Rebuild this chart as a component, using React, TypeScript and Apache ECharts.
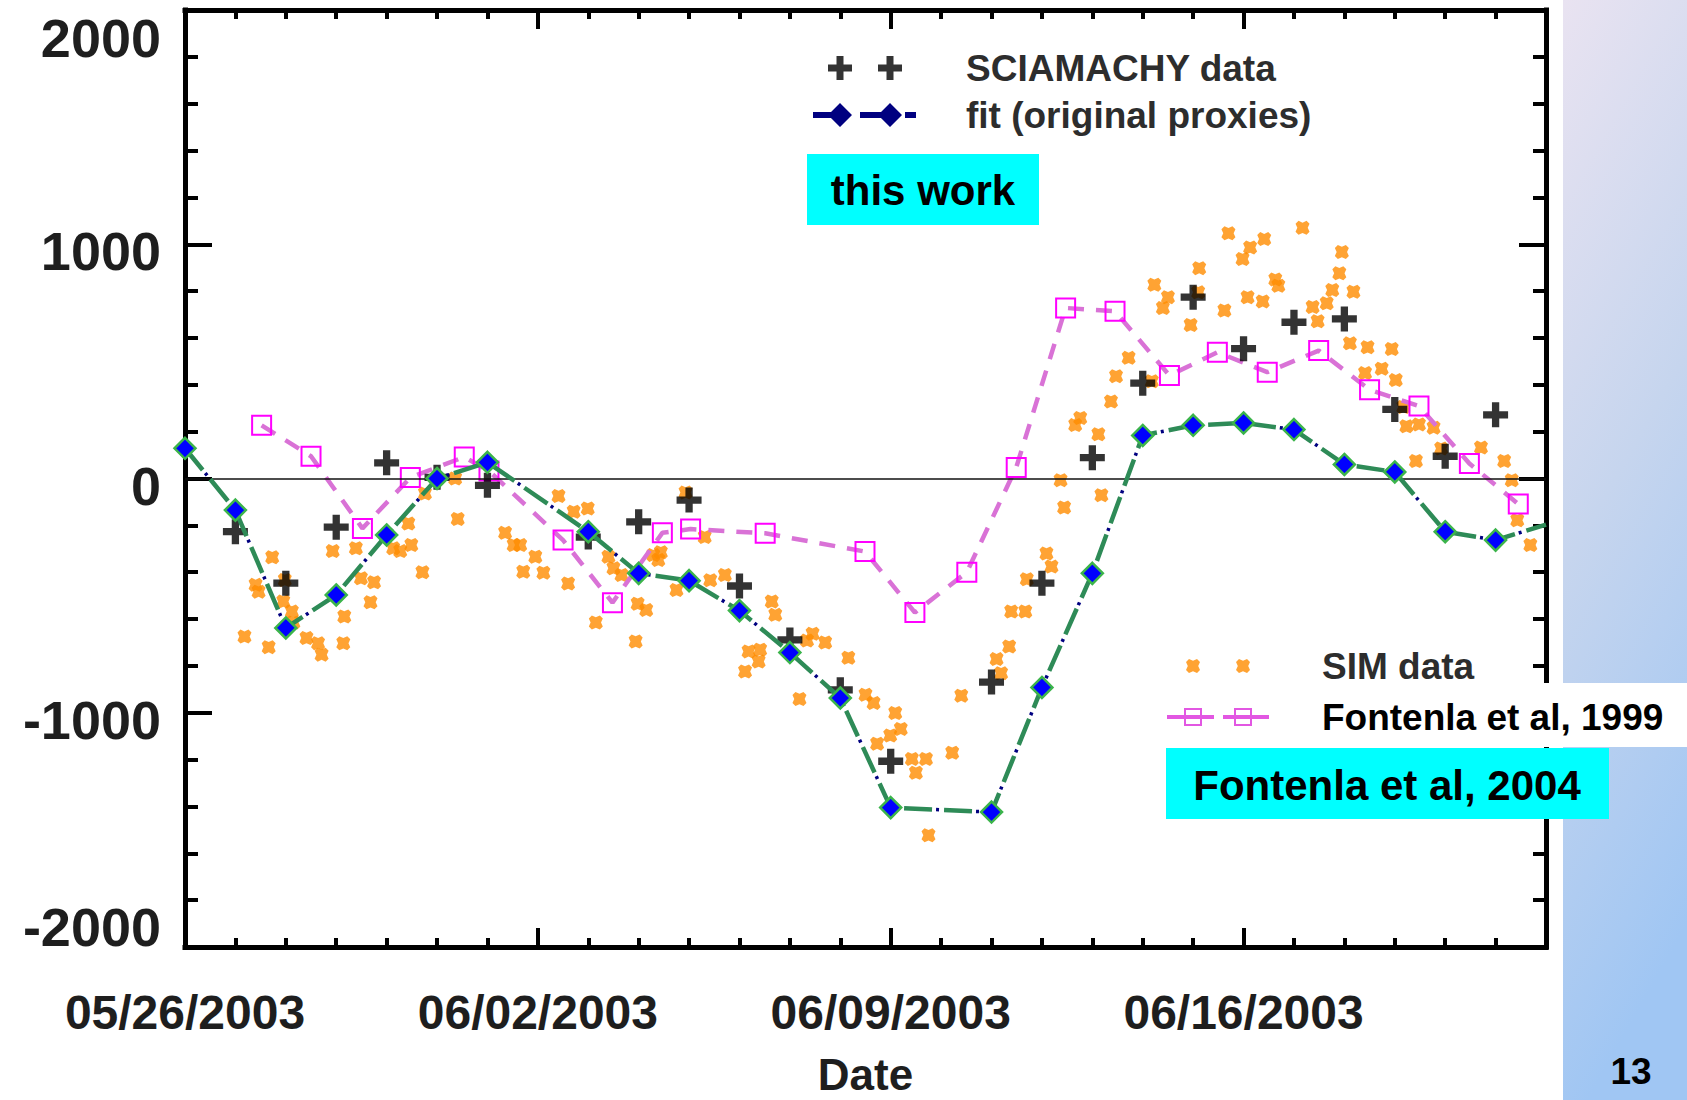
import React, { useEffect, useRef } from 'react';
import * as echarts from 'echarts';

// ---------------- data (x = days since 05/26/2003) ----------------
const xTickDays = [0, 7, 14, 21];
const xTickLabels = ['05/26/2003', '06/02/2003', '06/09/2003', '06/16/2003'];
const yTickValues = [-2000, -1000, 0, 1000, 2000];

const sciaDays = [1, 2, 3, 4, 5, 6, 8, 9, 10, 11, 12, 13, 14, 16, 17, 18, 19, 20, 21, 22, 23, 24, 25, 26];
const sciaValues = [-227, -447, -208, 67, 5, -29, -250, -185, -92, -459, -689, -902, -1207, -869, -447, 89, 407, 774, 554, 667, 681, 295, 95, 272];

const fitDays = [0, 1, 2, 3, 4, 5, 6, 8, 9, 10, 11, 12, 13, 14, 16, 17, 18, 19, 20, 21, 22, 23, 24, 25, 26, 27];
const fitValues = [129, -135, -638, -497, -241, 0, 69, -227, -405, -436, -564, -743, -937, -1405, -1424, -892, -405, 184, 227, 237, 209, 60, 28, -227, -263, -197];

const f99Days = [1.52, 2.5, 3.52, 4.47, 5.54, 6.03, 7.5, 8.48, 9.47, 10.03, 11.51, 13.49, 14.48, 15.51, 16.49, 17.47, 18.45, 19.53, 20.48, 21.47, 22.49, 23.5, 24.48, 25.48, 26.45];
const f99Values = [227, 95, -213, 4, 92, 32, -263, -530, -232, -216, -234, -312, -572, -400, 47, 728, 714, 440, 539, 454, 546, 379, 309, 64, -109];

const simDays = [
  1.18, 1.4, 1.46, 1.66, 1.73, 1.95, 1.98, 2.12, 2.15, 2.41, 2.64, 2.71, 2.93, 3.14, 3.16, 3.39, 3.49, 3.68, 3.75,
  4.13, 4.27, 4.43, 4.49, 4.71, 4.76, 5.36, 5.41, 6.35, 6.52, 6.65, 6.71, 6.95, 7.11, 7.41, 7.6, 7.71, 7.99,
  8.15, 8.4, 8.5, 8.66, 8.94, 8.98, 9.15, 9.29, 9.39, 9.44, 9.75, 9.93, 10.31, 10.42, 10.71, 11.11, 11.18,
  11.38, 11.41, 11.64, 11.71, 12.19, 12.34, 12.45, 12.7, 13.16, 13.5, 13.66, 13.73, 13.99, 14.09, 14.2,
  14.42, 14.5, 14.7, 14.75, 15.22, 15.4, 16.1, 16.19, 16.35, 16.39, 16.67, 16.7, 17.09, 17.19, 17.37, 17.44,
  17.66, 17.76, 18.12, 18.18, 18.37, 18.47, 18.72, 19.18, 19.23, 19.4, 19.5, 19.95, 20.1, 20.12, 20.62, 20.7,
  20.98, 21.08, 21.13, 21.38, 21.41, 21.63, 21.69, 22.17, 22.37, 22.47, 22.65, 22.76, 22.9, 22.95, 23.11,
  23.18, 23.41, 23.46, 23.74, 23.94, 24.02, 24.17, 24.23, 24.42, 24.48, 24.77, 24.92, 25.71, 26.17, 26.32,
  26.43, 26.69,
];
const simValues = [
  -675, -454, -483, -720, -336, -525, -433, -568, -615, -681, -703, -752, -310, -703, -589, -298, -426, -528, -443,
  -298, -310, -192, -284, -400, -64, 0, -173, -232, -284, -284, -398, -334, -402, -75, -448, -142, -128,
  -615, -334, -383, -412, -696, -535, -561, -327, -348, -315, -476, -60, -250, -434, -412, -824, -738,
  -781, -731, -525, -582, -941, -692, -663, -700, -765, -923, -958, -1132, -1097, -1001, -1069,
  -1197, -1256, -1197, -1523, -1171, -927, -771, -831, -717, -568, -568, -430, -320, -376, -7, -124,
  228, 258, 189, -71, 329, 437, 515, 415, 827, 728, 774, 655, 795, 898, 717, 1047,
  937, 774, 986, 756, 1022, 850, 823, 1070, 732, 671, 748, 805, 876, 967, 577,
  797, 450, 560, 469, 553, 420, 305, 223, 75, 231, 217, 128, 132, 75, -7,
  -178, -284,
];

// ---------------- styling helpers ----------------
const FONT = '"Liberation Sans", Arial, Helvetica, sans-serif';
const pairs = (xs: number[], ys: number[]) => xs.map((x, i) => [x, ys[i]]);

const PLUS_SYMBOL = 'path://M8.5,0H15.5V8.5H24V15.5H15.5V24H8.5V15.5H0V8.5H8.5Z';
const X_PTS = [[0, 3], [3, 0], [7, 1.8], [11, 0], [14, 3], [12.2, 7], [14, 11], [11, 14], [7, 12.2], [3, 14], [0, 11], [1.8, 7]];
const X_SYMBOL = 'path://M' + X_PTS.map(([a, b]) => `${a},${b}`).join('L') + 'Z';

const plusIcon = (cx: number) =>
  `M${cx - 3.5},0H${cx + 3.5}V8.5H${cx + 12}V15.5H${cx + 3.5}V24H${cx - 3.5}V15.5H${cx - 12}V8.5H${cx - 3.5}Z`;
const xIcon = (cx: number, cy: number, s: number) => {
  const k = s / 14;
  return 'M' + X_PTS.map(([a, b]) => `${(cx - s / 2 + a * k).toFixed(2)},${(cy - s / 2 + b * k).toFixed(2)}`).join('L') + 'Z';
};
const diamondIcon = (cx: number) => `M${cx - 12},12L${cx},0L${cx + 12},12L${cx},24Z`;
const squareRing = (cx: number) =>
  `M${cx - 9},3H${cx + 9}V21H${cx - 9}Z M${cx - 7},5V19H${cx + 7}V5Z`;

const ICON_SCIA = `path://M0,0Z M148,24Z ${plusIcon(27)} ${plusIcon(77)}`;
const ICON_FIT = `path://M0,0Z M148,24Z M0,9H22V15H0Z ${diamondIcon(27)} M47,9H72V15H47Z ${diamondIcon(77)} M92,9H103V15H92Z`;
const ICON_SIM = `path://M0,0Z M150,24Z ${xIcon(26, 12, 14)} ${xIcon(76, 12, 14)}`;
const ICON_F99 = `path://M0,0Z M150,24Z M0,10H47V14H0Z M56,10H102V14H56Z ${squareRing(26)} ${squareRing(76)}`;

const BLACK = '#000';
const frameLine = { show: true, onZero: false, lineStyle: { color: BLACK, width: 5, cap: 'square' } };
const noLine = { show: false, onZero: false };

const xCommon = { type: 'value', min: 0, max: 27, splitLine: { show: false } };

const yLabelFont = { fontSize: 54, fontWeight: 'bold', fontFamily: FONT, color: '#1e1e1e' };

export default function App() {
  const ref = useRef<HTMLDivElement>(null);

  useEffect(() => {
    if (!ref.current) return;
    const chart = echarts.init(ref.current, null, { renderer: 'svg' });

    const fitData = fitDays.map((d, i) =>
      i === fitDays.length - 1 ? { value: [d, fitValues[i]], symbol: 'none' } : [d, fitValues[i]]
    );

    const option: any = {
      animation: false,
      backgroundColor: '#ffffff',
      textStyle: { fontFamily: FONT },
      grid: { left: 185, top: 10, width: 1361, height: 937, containLabel: false, outerBoundsMode: 'none' },
      xAxis: [
        {
          ...xCommon,
          position: 'bottom',
          interval: 7,
          axisLine: frameLine,
          axisTick: { show: true, inside: true, length: 19, lineStyle: { color: BLACK, width: 4 } },
          axisLabel: {
            show: true,
            margin: 41,
            fontSize: 48,
            fontWeight: 'bold',
            fontFamily: FONT,
            color: '#1e1e1e',
            formatter: (v: number) => {
              const i = xTickDays.indexOf(v);
              return i >= 0 ? xTickLabels[i] : '';
            },
          },
          name: 'Date',
          nameLocation: 'middle',
          nameGap: 107,
          nameMoveOverlap: false,
          nameTextStyle: { fontSize: 44, lineHeight: 40, fontWeight: 'bold', fontFamily: FONT, color: '#1e1e1e' },
        },
        {
          ...xCommon,
          position: 'bottom',
          interval: 1,
          axisLine: noLine,
          axisTick: { show: true, inside: true, length: 9, lineStyle: { color: BLACK, width: 4 } },
          axisLabel: { show: false },
        },
        {
          ...xCommon,
          position: 'top',
          interval: 7,
          axisLine: frameLine,
          axisTick: { show: true, inside: true, length: 19, lineStyle: { color: BLACK, width: 4 } },
          axisLabel: { show: false },
        },
        {
          ...xCommon,
          position: 'top',
          interval: 1,
          axisLine: noLine,
          axisTick: { show: true, inside: true, length: 9, lineStyle: { color: BLACK, width: 4 } },
          axisLabel: { show: false },
        },
      ],
      yAxis: [
        {
          type: 'value',
          position: 'left',
          min: yTickValues[0],
          max: yTickValues[yTickValues.length - 1],
          interval: 1000,
          axisLine: frameLine,
          axisTick: { show: true, inside: true, length: 27, lineStyle: { color: BLACK, width: 4 } },
          minorTick: { show: true, splitNumber: 5, length: 13, lineStyle: { color: BLACK, width: 4 } },
          splitLine: { show: false },
          minorSplitLine: { show: false },
          axisLabel: {
            show: true,
            margin: 24,
            ...yLabelFont,
            formatter: (v: number) => {
              const s = String(v);
              if (v === yTickValues[yTickValues.length - 1]) return `{top|${s}}`;
              if (v === yTickValues[0]) return `{bot|${s}}`;
              return `{mid|${s}}`;
            },
            rich: {
              top: { ...yLabelFont, padding: [56, 0, 0, 0] },
              bot: { ...yLabelFont, padding: [0, 0, 40, 0] },
              mid: { ...yLabelFont, padding: [14, 0, 0, 0] },
            },
          },
        },
        {
          type: 'value',
          position: 'right',
          min: yTickValues[0],
          max: yTickValues[yTickValues.length - 1],
          interval: 1000,
          axisLine: frameLine,
          axisTick: { show: true, inside: true, length: 27, lineStyle: { color: BLACK, width: 4 } },
          minorTick: { show: true, splitNumber: 5, length: 13, lineStyle: { color: BLACK, width: 4 } },
          splitLine: { show: false },
          minorSplitLine: { show: false },
          axisLabel: { show: false },
        },
      ],
      legend: [
        {
          orient: 'vertical',
          left: 813,
          top: 49.5,
          padding: 0,
          itemGap: 10,
          itemWidth: 148,
          itemHeight: 24,
          align: 'left',
          selectedMode: false,
          z: 10,
          textStyle: { fontSize: 37, fontWeight: 'bold', fontFamily: FONT, color: '#2d2d2d' },
          data: [
            { name: 'SCIAMACHY data', icon: ICON_SCIA, itemStyle: { color: '#000', borderWidth: 0 } },
            { name: 'fit (original proxies)', icon: ICON_FIT, itemStyle: { color: '#000080', borderWidth: 0 } },
          ],
        },
        {
          orient: 'vertical',
          left: 1167,
          top: 647.5,
          padding: 0,
          itemGap: 14,
          itemWidth: 150,
          itemHeight: 24,
          align: 'left',
          selectedMode: false,
          z: 10,
          textStyle: { fontSize: 37, fontWeight: 'bold', fontFamily: FONT, color: '#2d2d2d' },
          data: [
            { name: 'SIM data', icon: ICON_SIM, itemStyle: { color: '#ff8c00', borderWidth: 0 } },
            {
              name: 'Fontenla et al, 1999',
              icon: ICON_F99,
              itemStyle: { color: '#e257e2', borderWidth: 0 },
              textStyle: { color: '#000' },
            },
          ],
        },
      ],
      series: [
        {
          name: 'SIM data',
          type: 'scatter',
          data: pairs(simDays, simValues),
          symbol: X_SYMBOL,
          symbolSize: 14,
          itemStyle: { color: '#ff8c00' },
          z: 2,
          markLine: {
            silent: true,
            symbol: ['none', 'none'],
            label: { show: false },
            lineStyle: { color: '#111', width: 1.6, type: 'solid' },
            data: [{ yAxis: 0 }],
          },
        },
        {
          name: 'Fontenla et al, 1999',
          type: 'line',
          data: pairs(f99Days, f99Values),
          symbol: 'rect',
          symbolSize: 19,
          lineStyle: { color: '#d972d6', width: 4.5, type: [16, 12] },
          itemStyle: { color: 'rgba(0,0,0,0)', borderColor: '#ff00ff', borderWidth: 2 },
          z: 3,
        },
        {
          name: 'SCIAMACHY data',
          type: 'scatter',
          data: pairs(sciaDays, sciaValues),
          symbol: PLUS_SYMBOL,
          symbolSize: 25,
          itemStyle: { color: '#000' },
          z: 4,
        },
        {
          name: 'fit (original proxies)',
          type: 'line',
          data: pairs(fitDays, fitValues),
          symbol: 'none',
          showSymbol: false,
          lineStyle: { color: '#000080', width: 3.5, type: [3, 37], dashOffset: 8 },
          itemStyle: { color: '#000080' },
          z: 5,
        },
        {
          name: 'Fontenla et al, 2004',
          type: 'line',
          data: fitData,
          symbol: 'diamond',
          symbolSize: 21,
          lineStyle: { color: '#2e8b57', width: 4.5, type: [28, 12] },
          itemStyle: { color: '#0000ff', borderColor: '#3cb44b', borderWidth: 2.5 },
          z: 6,
        },
      ],
      graphic: [
        {
          type: 'rect',
          silent: true,
          z: -10,
          shape: { x: 1563, y: 0, width: 124, height: 1100 },
          style: {
            fill: {
              type: 'linear', x: 0, y: 0, x2: 0.2, y2: 1,
              colorStops: [
                { offset: 0, color: '#e9e3f1' },
                { offset: 0.5, color: '#c6d5ee' },
                { offset: 1, color: '#a0c6f3' },
              ],
            },
          },
        },
        { type: 'rect', silent: true, z: 3, shape: { x: 1300, y: 683, width: 387, height: 64 }, style: { fill: '#ffffff' } },
        { type: 'rect', silent: true, z: 20, shape: { x: 807, y: 154, width: 232, height: 71 }, style: { fill: '#00ffff' } },
        {
          type: 'text', silent: true, z: 21, x: 923, y: 190,
          style: { text: 'this work', fill: '#000', font: `bold 42px ${FONT}`, align: 'center', verticalAlign: 'middle' },
        },
        { type: 'rect', silent: true, z: 20, shape: { x: 1166, y: 748, width: 443, height: 71 }, style: { fill: '#00ffff' } },
        {
          type: 'text', silent: true, z: 21, x: 1387, y: 785,
          style: { text: 'Fontenla et al, 2004', fill: '#000', font: `bold 42px ${FONT}`, align: 'center', verticalAlign: 'middle' },
        },
        {
          type: 'text', silent: true, z: 21, x: 1631, y: 1071,
          style: { text: '13', fill: '#000', font: `bold 37px ${FONT}`, align: 'center', verticalAlign: 'middle' },
        },
      ],
    };

    chart.setOption(option);
    return () => chart.dispose();
  }, []);

  return <div ref={ref} style={{ position: 'absolute', left: 0, top: 0, width: 1687, height: 1100 }} />;
}
